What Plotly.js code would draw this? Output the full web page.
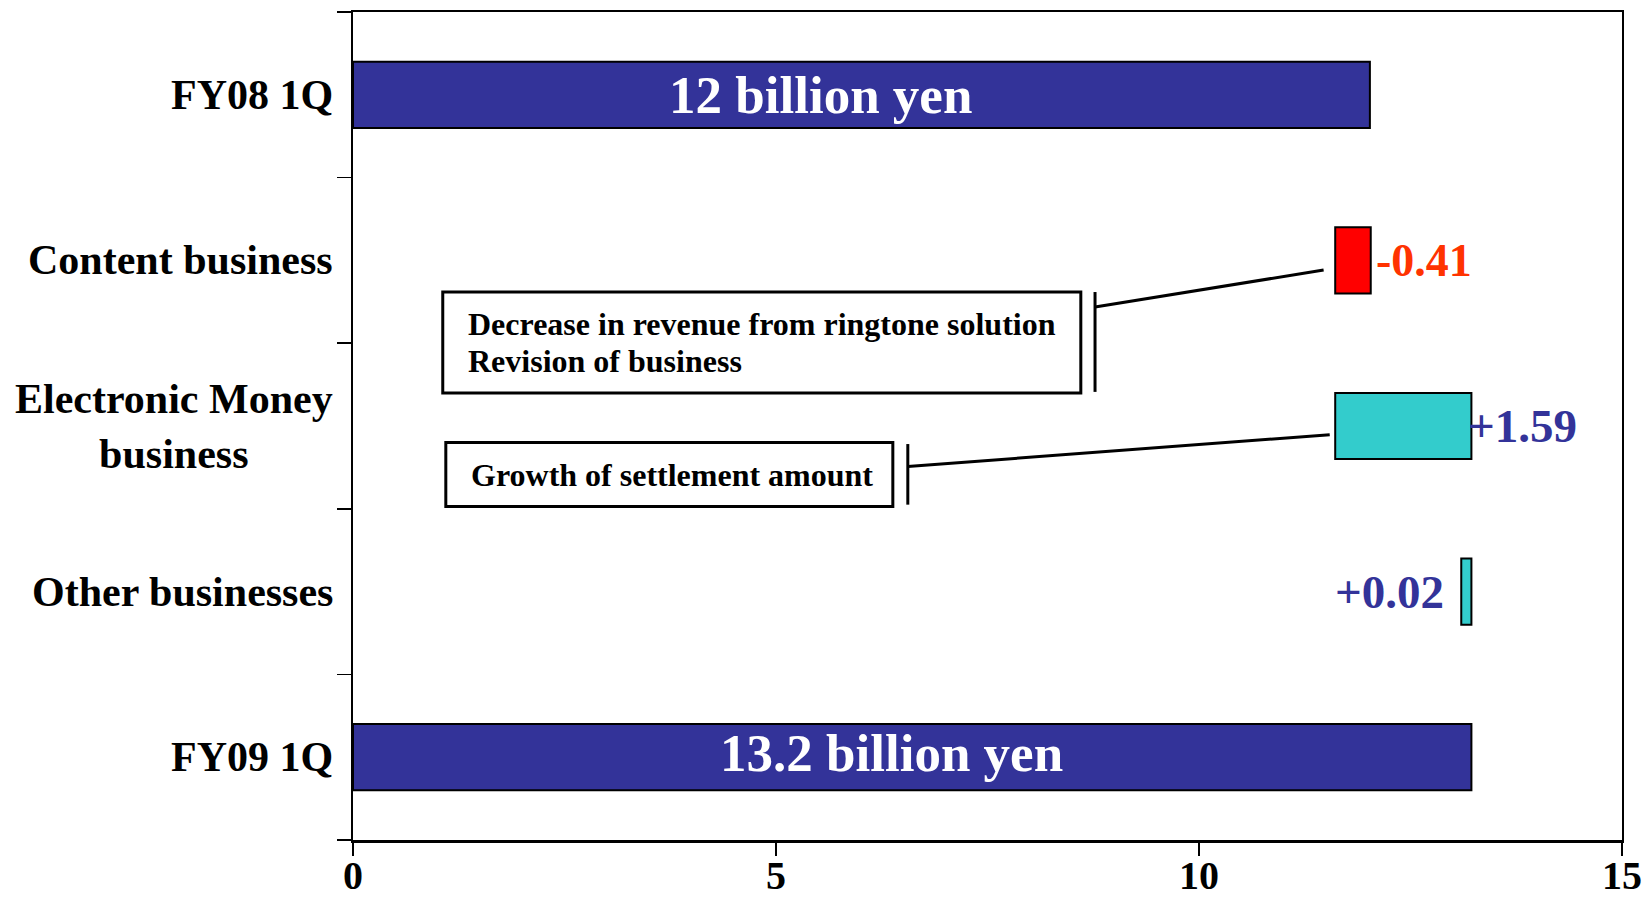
<!DOCTYPE html>
<html>
<head>
<meta charset="utf-8">
<script src="https://cdn.plot.ly/plotly-3.0.1.min.js"></script>
<style>html,body{margin:0;padding:0;background:#fff;}#chart{width:1645px;height:898px;}</style>
</head>
<body>
<div id="chart"></div>
<script>
// ---- data ----
const categories = ['FY08 1Q', 'Content business', 'Electronic Money<br>business', 'Other businesses', 'FY09 1Q'];
const barStart = [0, 11.61, 11.61, 13.10, 0];
const barEnd = [12.02, 12.03, 13.22, 13.22, 13.22];
const barColors = ['#333399', '#FF0000', '#33CCCC', '#33CCCC', '#333399'];
const totalLabels = ['12 billion yen', '13.2 billion yen'];
const changeLabels = ['-0.41', '+1.59', '+0.02'];
const changeColors = ['#FF3300', '#333399', '#333399'];
const calloutText1 = ['Decrease in revenue from ringtone solution', 'Revision of business'];
const calloutText2 = ['Growth of settlement amount'];
const xTicks = [0, 5, 10, 15];

const FONT = '"Liberation Serif", "Times New Roman", Times, serif';
const pos = categories.map((_, i) => i);

const trace = {
  type: 'bar',
  orientation: 'h',
  y: pos,
  base: barStart,
  x: barEnd.map((e, i) => e - barStart[i]),
  width: 0.4,
  marker: {color: barColors, line: {color: '#000000', width: 2}},
  hoverinfo: 'skip',
  showlegend: false
};

const annotations = [];
// category labels
categories.forEach((c, i) => {
  annotations.push({
    xref: 'paper', yref: 'y', x: 0, y: i, xshift: -18,
    xanchor: 'right', yanchor: 'middle', align: 'center',
    text: c, showarrow: false,
    font: {family: FONT, size: 42, color: '#000', weight: 'bold'}
  });
});
// totals inside bars
annotations.push({x: 5.53, y: 0, text: totalLabels[0], showarrow: false, xanchor: 'center', yanchor: 'middle',
  font: {family: FONT, size: 53, color: '#FFFFFF', weight: 'bold'}});
annotations.push({x: 6.37, y: 3.975, text: totalLabels[1], showarrow: false, xanchor: 'center', yanchor: 'middle',
  font: {family: FONT, size: 53, color: '#FFFFFF', weight: 'bold'}});
// change labels
annotations.push({x: barEnd[1], y: 1, xshift: 3, text: changeLabels[0], showarrow: false, xanchor: 'left', yanchor: 'middle',
  font: {family: FONT, size: 46, color: changeColors[0], weight: 'bold'}});
annotations.push({x: barEnd[2], y: 2, xshift: -5, text: changeLabels[1], showarrow: false, xanchor: 'left', yanchor: 'middle',
  font: {family: FONT, size: 47, color: changeColors[1], weight: 'bold'}});
annotations.push({x: barStart[3], y: 3, xshift: -15, text: changeLabels[2], showarrow: false, xanchor: 'right', yanchor: 'middle',
  font: {family: FONT, size: 47, color: changeColors[2], weight: 'bold'}});
// callout texts
annotations.push({x: 1.333, y: 1.384, text: calloutText1[0], showarrow: false, xanchor: 'left', yanchor: 'middle',
  font: {family: FONT, size: 32, color: '#000', weight: 'bold'}});
annotations.push({x: 1.333, y: 1.605, text: calloutText1[1], showarrow: false, xanchor: 'left', yanchor: 'middle',
  font: {family: FONT, size: 32, color: '#000', weight: 'bold'}});
annotations.push({x: 1.370, y: 2.294, text: calloutText2[0], showarrow: false, xanchor: 'left', yanchor: 'middle',
  font: {family: FONT, size: 32, color: '#000', weight: 'bold'}});

const ln = {color: '#000', width: 3};
const shapes = [
  {type: 'rect', xref: 'x', yref: 'y', x0: 1.061, x1: 8.603, y0: 1.191, y1: 1.800, line: ln, fillcolor: 'rgba(255,255,255,0)'},
  {type: 'line', xref: 'x', yref: 'y', x0: 8.771, x1: 8.771, y0: 1.191, y1: 1.794, line: ln},
  {type: 'line', xref: 'x', yref: 'y', x0: 8.771, x1: 11.473, y0: 1.282, y1: 1.058, line: ln},
  {type: 'rect', xref: 'x', yref: 'y', x0: 1.097, x1: 6.381, y0: 2.100, y1: 2.486, line: ln, fillcolor: 'rgba(255,255,255,0)'},
  {type: 'line', xref: 'x', yref: 'y', x0: 6.558, x1: 6.558, y0: 2.109, y1: 2.475, line: ln},
  {type: 'line', xref: 'x', yref: 'y', x0: 6.558, x1: 11.545, y0: 2.244, y1: 2.053, line: ln}
];

const layout = {
  width: 1645, height: 898,
  margin: {l: 353, r: 23, t: 12, b: 58, pad: 0},
  paper_bgcolor: '#FFFFFF', plot_bgcolor: '#FFFFFF',
  bargap: 0,
  xaxis: {
    range: [0, 15], tickvals: xTicks, ticktext: xTicks.map(String),
    showgrid: false, zeroline: false,
    showline: true, linecolor: '#000', linewidth: 2.5, mirror: true,
    ticks: 'outside', ticklen: 13, tickwidth: 1.5, tickcolor: '#000',
    ticklabelstandoff: -15,
    tickfont: {family: FONT, size: 40, color: '#000', weight: 'bold'}
  },
  yaxis: {
    range: [4.5, -0.5], tickvals: [-0.5, 0.5, 1.5, 2.5, 3.5, 4.5], showticklabels: false,
    showgrid: false, zeroline: false,
    showline: true, linecolor: '#000', linewidth: 2, mirror: true,
    ticks: 'outside', ticklen: 14, tickwidth: 1.5, tickcolor: '#000'
  },
  annotations: annotations,
  shapes: shapes
};

Plotly.newPlot('chart', [trace], layout, {displayModeBar: false, staticPlot: true});
</script>
</body>
</html>
